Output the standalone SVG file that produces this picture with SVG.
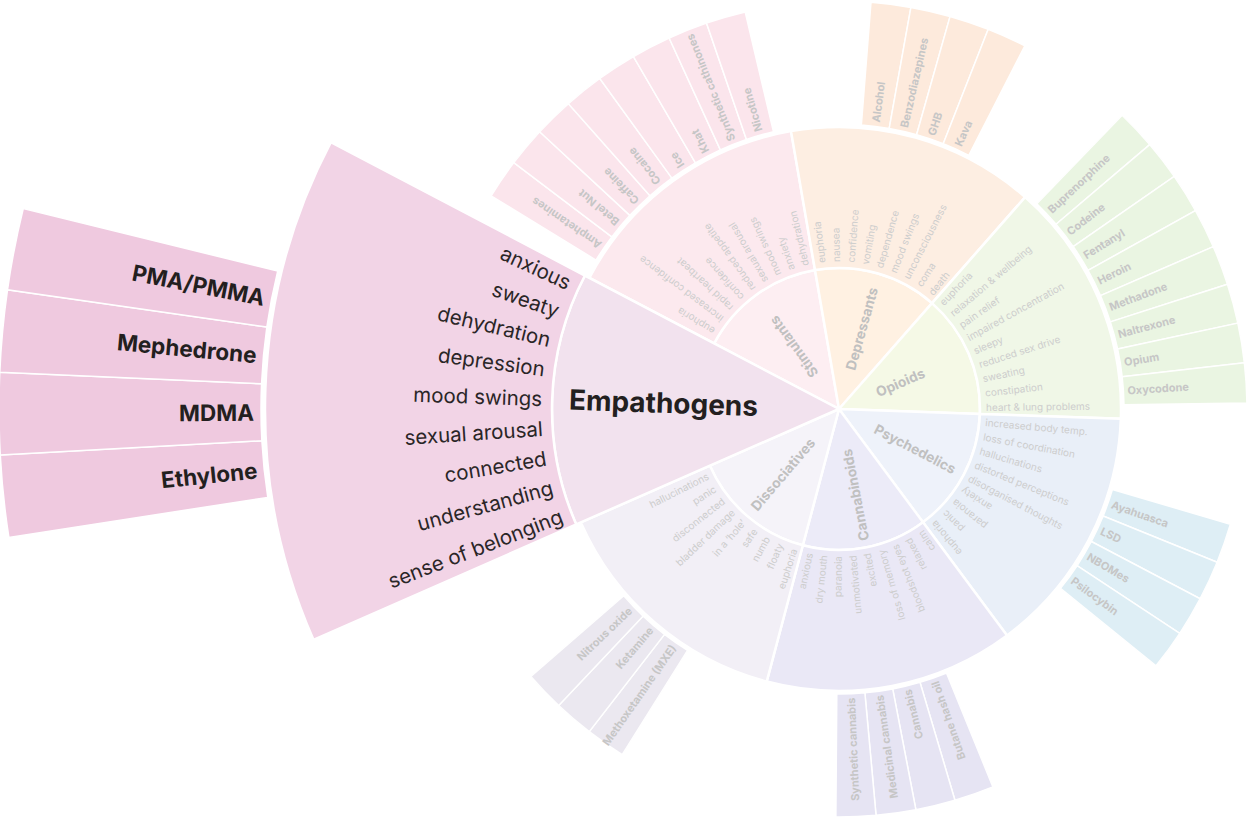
<svg xmlns="http://www.w3.org/2000/svg" xmlns:xlink="http://www.w3.org/1999/xlink" width="1252" height="820" viewBox="0 0 1252 820">
<style>
.w{stroke:#fff;stroke-width:2.5}
.d{stroke:#fff;stroke-width:1.5}
text{font-family:Inter,"Liberation Sans",sans-serif;dominant-baseline:central}
.e{font-size:10px;fill:#cdcdcd}
.g{font-size:11px;font-weight:700;fill:#c6c6c6}
.c{font-size:13.8px;font-weight:700;fill:#c0c0c0}
.f{text-anchor:end}
.E{font-size:20.5px;fill:#2a2627}
.G{font-size:22.5px;font-weight:700;fill:#231f20}
.C{font-size:28px;font-weight:700;fill:#231f20}
</style>
<defs>
<path id="inner" d="M0,0 L127.04,-61.18 A141,141 0 0 1 127.04,61.18 Z"/>
<path id="eff" d="M127.04,-61.18 L254.07,-122.35 A282,282 0 0 1 254.07,122.35 L127.04,61.18 A141,141 0 0 0 127.04,-61.18 Z"/>
<path id="drug" d="M284.65,-14.05 L407.5,-20.11 A408,408 0 0 1 407.5,20.11 L284.65,14.05 A285,285 0 0 0 284.65,-14.05 Z"/>
<path id="sinner" d="M0,0 L126.46,-62.36 A141,141 0 0 1 126.46,62.36 Z"/>
<path id="seff" d="M126.46,-62.36 L252.92,-124.73 A282,282 0 0 1 252.92,124.73 L126.46,62.36 A141,141 0 0 0 126.46,-62.36 Z"/>
<path id="dinner" d="M0,0 L127.21,-60.81 A141,141 0 0 1 127.21,60.81 Z"/>
<path id="deff" d="M127.21,-60.81 L254.42,-121.63 A282,282 0 0 1 254.42,121.63 L127.21,60.81 A141,141 0 0 0 127.21,-60.81 Z"/>
<path id="oinner" d="M0,0 L127.42,-60.37 A141,141 0 0 1 127.42,60.37 Z"/>
<path id="oeff" d="M127.42,-60.37 L254.85,-120.74 A282,282 0 0 1 254.85,120.74 L127.42,60.37 A141,141 0 0 0 127.42,-60.37 Z"/>
<path id="einner" d="M0,0 L258.58,-124.52 A287,287 0 0 1 258.58,124.52 Z"/>
<path id="eeff" d="M258.58,-124.52 L517.16,-249.05 A574,574 0 0 1 517.16,249.05 L258.58,124.52 A287,287 0 0 0 258.58,-124.52 Z"/>
<path id="edrug" d="M577.3,-28.49 L838.98,-41.4 A840,840 0 0 1 838.98,41.4 L577.3,28.49 A578,578 0 0 0 577.3,-28.49 Z"/>
</defs>

<g id="stimulants" transform="translate(839 409)">
<use href="#sinner" class="w" fill="#fdeef2" transform="rotate(233.95)"/>
<use href="#seff" class="w" fill="#fce9ee" transform="rotate(233.95)"/>
<g class="d" fill="#fbe5ec">
<use href="#drug" transform="rotate(214.325)"/><use href="#drug" transform="rotate(219.975)"/><use href="#drug" transform="rotate(225.625)"/><use href="#drug" transform="rotate(231.275)"/><use href="#drug" transform="rotate(236.925)"/><use href="#drug" transform="rotate(242.575)"/><use href="#drug" transform="rotate(248.225)"/><use href="#drug" transform="rotate(253.875)"/>
</g>
<text class="c" transform="rotate(234) translate(41 0)">Stimulants</text>
<text class="e" transform="rotate(211.5) translate(147 0)">euphoria</text>
<text class="e" transform="rotate(217.15) translate(147 0)">increased confidence</text>
<text class="e" transform="rotate(222.8) translate(147 0)">rapid heartbeat</text>
<text class="e" transform="rotate(228.45) translate(147 0)">confidence</text>
<text class="e" transform="rotate(234.1) translate(147 0)">reduced appetite</text>
<text class="e" transform="rotate(239.75) translate(147 0)">sexual arousal</text>
<text class="e" transform="rotate(245.4) translate(147 0)">mood swings</text>
<text class="e" transform="rotate(251.05) translate(147 0)">anxiety</text>
<text class="e" transform="rotate(256.7) translate(147 0)">dehydration</text>
<text class="g" transform="rotate(214.325) translate(289 0)">Amphetamines</text>
<text class="g" transform="rotate(219.975) translate(289 0)">Betel Nut</text>
<text class="g" transform="rotate(225.625) translate(289 0)">Caffeine</text>
<text class="g" transform="rotate(231.275) translate(289 0)">Cocaine</text>
<text class="g" transform="rotate(236.925) translate(289 0)">Ice</text>
<text class="g" transform="rotate(242.575) translate(289 0)">Khat</text>
<text class="g" transform="rotate(248.225) translate(289 0)">Synthetic cathinones</text>
<text class="g" transform="rotate(253.875) translate(289 0)">Nicotine</text>
</g>

<g id="depressants" transform="translate(839 409)">
<use href="#dinner" class="w" fill="#fff1e2" transform="rotate(-74.25)"/>
<use href="#deff" class="w" fill="#fdeee2" transform="rotate(-74.25)"/>
<g class="d" fill="#fdeadc">
<use href="#drug" transform="rotate(-82.675)"/><use href="#drug" transform="rotate(-77.025)"/><use href="#drug" transform="rotate(-71.375)"/><use href="#drug" transform="rotate(-65.725)"/>
</g>
<text class="c" transform="rotate(-74.2) translate(41 0)">Depressants</text>
<text class="e" transform="rotate(-96.8) translate(147 0)">euphoria</text>
<text class="e" transform="rotate(-91.15) translate(147 0)">nausea</text>
<text class="e" transform="rotate(-85.5) translate(147 0)">confidence</text>
<text class="e" transform="rotate(-79.85) translate(147 0)">vomiting</text>
<text class="e" transform="rotate(-74.2) translate(147 0)">dependence</text>
<text class="e" transform="rotate(-68.55) translate(147 0)">mood swings</text>
<text class="e" transform="rotate(-62.9) translate(147 0)">unconsciousness</text>
<text class="e" transform="rotate(-57.25) translate(147 0)">coma</text>
<text class="e" transform="rotate(-51.6) translate(147 0)">death</text>
<text class="g" transform="rotate(-82.675) translate(289 0)">Alcohol</text>
<text class="g" transform="rotate(-77.025) translate(289 0)">Benzodiazepines</text>
<text class="g" transform="rotate(-71.375) translate(289 0)">GHB</text>
<text class="g" transform="rotate(-65.725) translate(289 0)">Kava</text>
</g>

<g id="opioids" transform="translate(839 409)">
<use href="#oinner" class="w" fill="#f5f9e6" transform="rotate(-23.35)"/>
<use href="#oeff" class="w" fill="#f0f7e7" transform="rotate(-23.35)"/>
<g class="d" fill="#eaf5e2">
<use href="#drug" transform="rotate(-43.225)"/><use href="#drug" transform="rotate(-37.575)"/><use href="#drug" transform="rotate(-31.925)"/><use href="#drug" transform="rotate(-26.275)"/><use href="#drug" transform="rotate(-20.625)"/><use href="#drug" transform="rotate(-14.975)"/><use href="#drug" transform="rotate(-9.325)"/><use href="#drug" transform="rotate(-3.675)"/>
</g>
<text class="c" transform="rotate(-23.35) translate(41 0)">Opioids</text>
<text class="e" transform="rotate(-45.95) translate(147 0)">euphoria</text>
<text class="e" transform="rotate(-40.3) translate(147 0)">relaxation &amp; wellbeing</text>
<text class="e" transform="rotate(-34.65) translate(147 0)">pain relief</text>
<text class="e" transform="rotate(-29) translate(147 0)">impaired concentration</text>
<text class="e" transform="rotate(-23.35) translate(147 0)">sleepy</text>
<text class="e" transform="rotate(-17.7) translate(147 0)">reduced sex drive</text>
<text class="e" transform="rotate(-12.05) translate(147 0)">sweating</text>
<text class="e" transform="rotate(-6.4) translate(147 0)">constipation</text>
<text class="e" transform="rotate(-0.75) translate(147 0)">heart &amp; lung problems</text>
<text class="g" transform="rotate(-43.225) translate(289 0)">Buprenorphine</text>
<text class="g" transform="rotate(-37.575) translate(289 0)">Codeine</text>
<text class="g" transform="rotate(-31.925) translate(289 0)">Fentanyl</text>
<text class="g" transform="rotate(-26.275) translate(289 0)">Heroin</text>
<text class="g" transform="rotate(-20.625) translate(289 0)">Methadone</text>
<text class="g" transform="rotate(-14.975) translate(289 0)">Naltrexone</text>
<text class="g" transform="rotate(-9.325) translate(289 0)">Opium</text>
<text class="g" transform="rotate(-3.675) translate(289 0)">Oxycodone</text>
</g>

<g id="psychedelics" transform="translate(839 409)">
<use href="#inner" class="w" fill="#eef2fa" transform="rotate(27.71)"/>
<use href="#eff" class="w" fill="#e9eff8" transform="rotate(27.71)"/>
<g class="d" fill="#deeef5">
<use href="#drug" transform="rotate(19.235)"/><use href="#drug" transform="rotate(24.885)"/><use href="#drug" transform="rotate(30.535)"/><use href="#drug" transform="rotate(36.185)"/>
</g>
<text class="c" transform="rotate(27.71) translate(41 0)">Psychedelics</text>
<text class="e" transform="rotate(5.11) translate(147 0)">increased body temp.</text>
<text class="e" transform="rotate(10.76) translate(147 0)">loss of coordination</text>
<text class="e" transform="rotate(16.41) translate(147 0)">hallucinations</text>
<text class="e" transform="rotate(22.06) translate(147 0)">distorted perceptions</text>
<text class="e" transform="rotate(27.71) translate(147 0)">disorganised thoughts</text>
<text class="e f" transform="rotate(33.36) translate(147 0) rotate(180)">anxiety</text>
<text class="e f" transform="rotate(39.01) translate(147 0) rotate(180)">paranoia</text>
<text class="e f" transform="rotate(44.66) translate(147 0) rotate(180)">panic</text>
<text class="e f" transform="rotate(50.31) translate(147 0) rotate(180)">euphoria</text>
<text class="g" transform="rotate(19.235) translate(289 0)">Ayahuasca</text>
<text class="g" transform="rotate(24.885) translate(289 0)">LSD</text>
<text class="g" transform="rotate(30.535) translate(289 0)">NBOMes</text>
<text class="g" transform="rotate(36.185) translate(289 0)">Psilocybin</text>
</g>

<g id="cannabinoids" transform="translate(839 409)">
<use href="#inner" class="w" fill="#ecebf8" transform="rotate(79.14)"/>
<use href="#eff" class="w" fill="#eae8f6" transform="rotate(79.14)"/>
<g class="d" fill="#e6e4f3">
<use href="#drug" transform="rotate(70.665)"/><use href="#drug" transform="rotate(76.315)"/><use href="#drug" transform="rotate(81.965)"/><use href="#drug" transform="rotate(87.615)"/>
</g>
<text class="c f" transform="rotate(79.14) translate(41 0) rotate(180)">Cannabinoids</text>
<text class="e f" transform="rotate(56.54) translate(147 0) rotate(180)">calm</text>
<text class="e f" transform="rotate(62.19) translate(147 0) rotate(180)">relaxed</text>
<text class="e f" transform="rotate(67.84) translate(147 0) rotate(180)">bloodshot eyes</text>
<text class="e f" transform="rotate(73.49) translate(147 0) rotate(180)">loss of memory</text>
<text class="e f" transform="rotate(79.14) translate(147 0) rotate(180)">excited</text>
<text class="e f" transform="rotate(84.79) translate(147 0) rotate(180)">unmotivated</text>
<text class="e f" transform="rotate(90.44) translate(147 0) rotate(180)">paranoia</text>
<text class="e f" transform="rotate(96.09) translate(147 0) rotate(180)">dry mouth</text>
<text class="e f" transform="rotate(101.74) translate(147 0) rotate(180)">anxious</text>
<text class="g f" transform="rotate(70.665) translate(289 0) rotate(180)">Butane hash oil</text>
<text class="g f" transform="rotate(76.315) translate(289 0) rotate(180)">Cannabis</text>
<text class="g f" transform="rotate(81.965) translate(289 0) rotate(180)">Medicinal cannabis</text>
<text class="g f" transform="rotate(87.615) translate(289 0) rotate(180)">Synthetic cannabis</text>
</g>

<g id="dissociatives" transform="translate(839 409)">
<use href="#inner" class="w" fill="#f5f3f9" transform="rotate(130.57)"/>
<use href="#eff" class="w" fill="#f2eff6" transform="rotate(130.57)"/>
<g class="d" fill="#ebe8f0">
<use href="#drug" transform="rotate(124.92)"/><use href="#drug" transform="rotate(130.57)"/><use href="#drug" transform="rotate(136.22)"/>
</g>
<text class="c f" transform="rotate(130.57) translate(41 0) rotate(180)">Dissociatives</text>
<text class="e f" transform="rotate(107.97) translate(147 0) rotate(180)">euphoria</text>
<text class="e f" transform="rotate(113.62) translate(147 0) rotate(180)">floaty</text>
<text class="e f" transform="rotate(119.27) translate(147 0) rotate(180)">numb</text>
<text class="e f" transform="rotate(124.92) translate(147 0) rotate(180)">safe</text>
<text class="e f" transform="rotate(130.57) translate(147 0) rotate(180)">in a ‘hole’</text>
<text class="e f" transform="rotate(136.22) translate(147 0) rotate(180)">bladder damage</text>
<text class="e f" transform="rotate(141.87) translate(147 0) rotate(180)">disconnected</text>
<text class="e f" transform="rotate(147.52) translate(147 0) rotate(180)">panic</text>
<text class="e f" transform="rotate(153.17) translate(147 0) rotate(180)">hallucinations</text>
<text class="g f" transform="rotate(124.92) translate(289 0) rotate(180)">Methoxetamine (MXE)</text>
<text class="g f" transform="rotate(130.57) translate(289 0) rotate(180)">Ketamine</text>
<text class="g f" transform="rotate(136.22) translate(289 0) rotate(180)">Nitrous oxide</text>
</g>

<g id="empathogens" transform="translate(839 409)">
<use href="#einner" class="w" fill="#f2e2ee" transform="rotate(182)"/>
<use href="#eeff" class="w" fill="#f2d4e6" transform="rotate(182)"/>
<g class="d" fill="#efc9df">
<use href="#edrug" transform="rotate(174.03)"/><use href="#edrug" transform="rotate(179.68)"/><use href="#edrug" transform="rotate(185.33)"/><use href="#edrug" transform="rotate(190.98)"/>
</g>
<text class="C f" transform="rotate(182) translate(81 0) rotate(180)">Empathogens</text>
<text class="E f" transform="rotate(159) translate(297 0) rotate(180)">sense of belonging</text>
<text class="E f" transform="rotate(164.75) translate(297 0) rotate(180)">understanding</text>
<text class="E f" transform="rotate(170.5) translate(297 0) rotate(180)">connected</text>
<text class="E f" transform="rotate(176.25) translate(297 0) rotate(180)">sexual arousal</text>
<text class="E f" transform="rotate(182) translate(297 0) rotate(180)">mood swings</text>
<text class="E f" transform="rotate(187.75) translate(297 0) rotate(180)">depression</text>
<text class="E f" transform="rotate(193.5) translate(297 0) rotate(180)">dehydration</text>
<text class="E f" transform="rotate(199.25) translate(297 0) rotate(180)">sweaty</text>
<text class="E f" transform="rotate(205) translate(297 0) rotate(180)">anxious</text>
<text class="G f" transform="rotate(174.03) translate(585 0) rotate(180)">Ethylone</text>
<text class="G f" transform="rotate(179.68) translate(585 0) rotate(180)">MDMA</text>
<text class="G f" transform="rotate(185.33) translate(585 0) rotate(180)">Mephedrone</text>
<text class="G f" transform="rotate(190.98) translate(585 0) rotate(180)">PMA/PMMA</text>
</g>
</svg>
